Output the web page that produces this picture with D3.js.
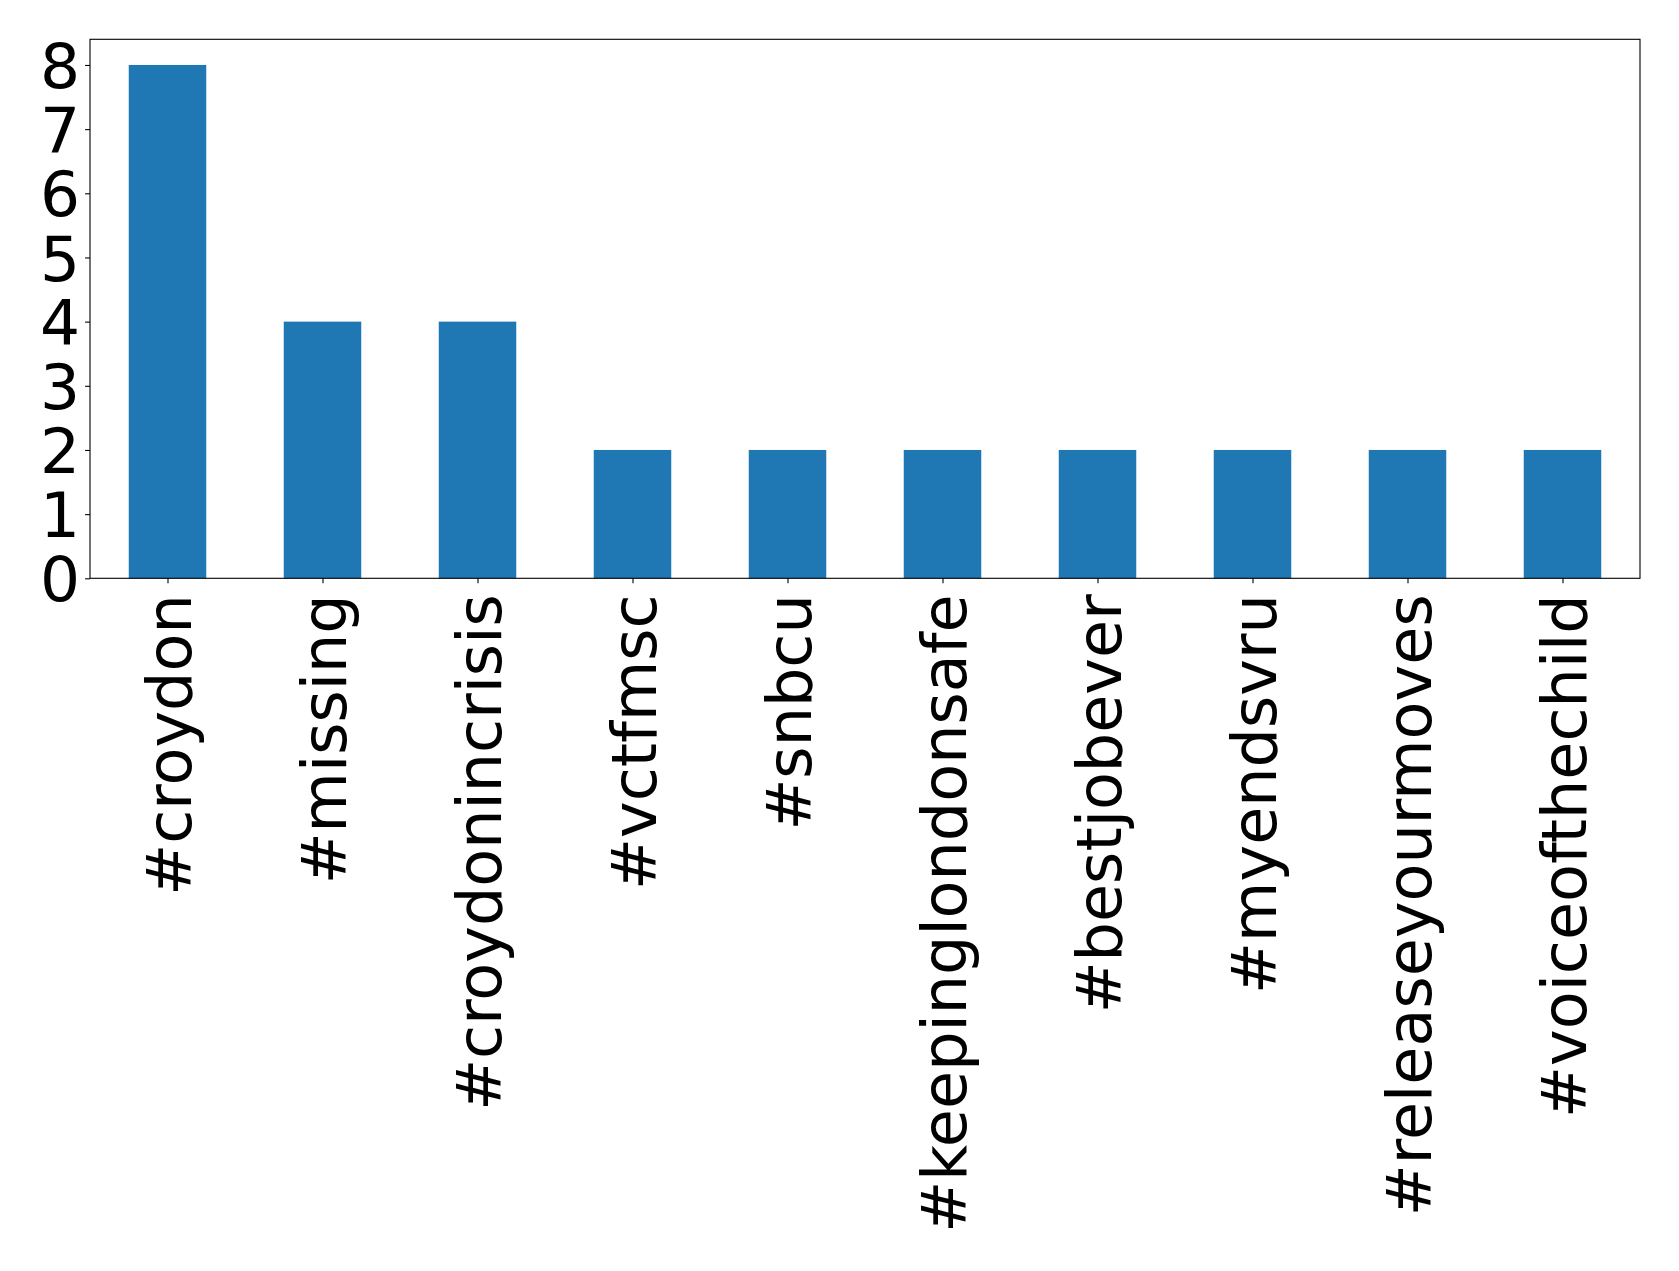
<!DOCTYPE html>
<html><head><meta charset="utf-8">
<script src="https://cdn.jsdelivr.net/npm/d3@7"></script>
<style>body{margin:0;background:#fff}svg{display:block}</style>
</head><body>
<script>
const categories = ["#croydon","#missing","#croydonincrisis","#vctfmsc","#snbcu","#keepinglondonsafe","#bestjobever","#myendsvru","#releaseyourmoves","#voiceofthechild"];
const values = [8,4,4,2,2,2,2,2,2,2];
const yTicks = [0,1,2,3,4,5,6,7,8];

const W = 1679, H = 1271;
const m = {left: 90, top: 39.3, right: 1640, bottom: 578.3};
const fs = 62;
const svg = d3.select("body").append("svg").attr("width", W).attr("height", H);

const x = d3.scaleLinear().domain([-0.5, categories.length - 0.5]).range([m.left, m.right]);
const y = d3.scaleLinear().domain([0, 8.4]).range([m.bottom, m.top]);

svg.append("g").selectAll("rect").data(values).join("rect")
  .attr("x", (d,i) => x(i - 0.25)).attr("width", (d,i) => x(i + 0.25) - x(i - 0.25))
  .attr("y", d => y(d)).attr("height", d => y(0) - y(d))
  .attr("fill", "#1f77b4");

const yAxis = d3.axisLeft(y).tickValues(yTicks).tickFormat(d3.format("d")).tickSizeInner(4.9).tickSizeOuter(0).tickPadding(4.9);
const gy = svg.append("g").attr("transform", `translate(${m.left},0)`).call(yAxis);
gy.select(".domain").remove();
gy.selectAll("line").attr("stroke", "#000").attr("stroke-width", 1.1);
gy.selectAll("text").attr("font-family", "DejaVu Sans").attr("font-size", 63).attr("fill", "#000").attr("dy", "0.36em");

const xAxis = d3.axisBottom(x).tickValues(d3.range(categories.length)).tickFormat(i => categories[i]).tickSizeInner(4.9).tickSizeOuter(0).tickPadding(4.9);
const gx = svg.append("g").attr("transform", `translate(0,${m.bottom})`).call(xAxis);
gx.select(".domain").remove();
gx.selectAll("line").attr("stroke", "#000").attr("stroke-width", 1.1);
gx.selectAll("text")
  .attr("font-family", "DejaVu Sans").attr("font-size", fs).attr("fill", "#000")
  .attr("y", 0).attr("dy", "0.37em")
  .attr("transform", "translate(0,16) rotate(-90)")
  .attr("text-anchor", "end");

svg.append("rect").attr("x", m.left).attr("y", m.top).attr("width", m.right - m.left).attr("height", m.bottom - m.top)
  .attr("fill", "none").attr("stroke", "#000").attr("stroke-width", 1.1);
</script>
</body></html>
